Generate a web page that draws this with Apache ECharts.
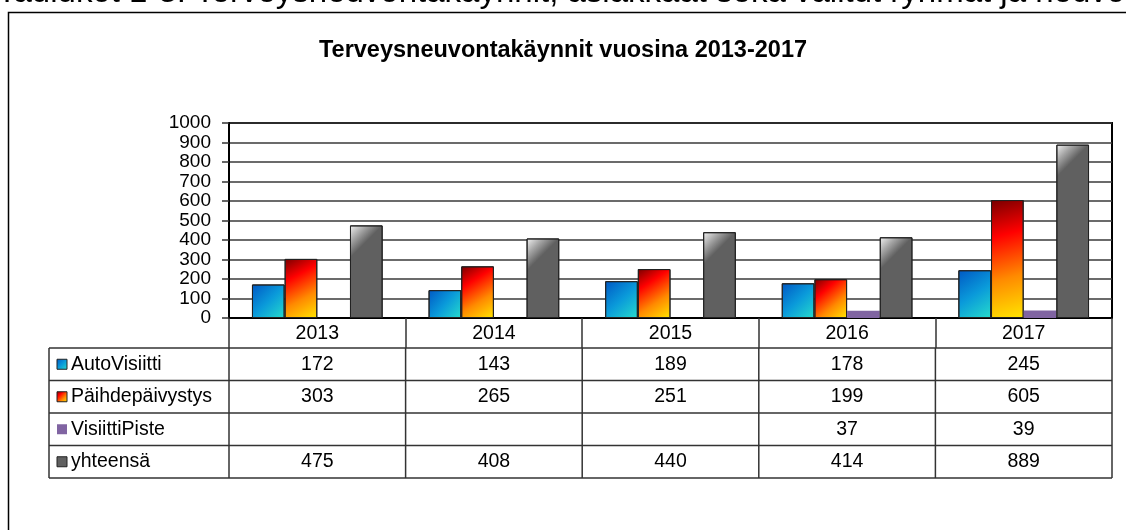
<!DOCTYPE html>
<html>
<head>
<meta charset="utf-8">
<script src="https://cdn.jsdelivr.net/npm/echarts@6/dist/echarts.min.js"></script>
<style>
  html, body { margin: 0; padding: 0; background: #fff; }
  #chart { width: 1126px; height: 530px; }
</style>
</head>
<body>
<div id="chart"></div>
<script>
// data
const years = ['2013', '2014', '2015', '2016', '2017']
const autoVisiitti = [172, 143, 189, 178, 245]
const paihdepaivystys = [303, 265, 251, 199, 605]
const visiittiPiste = [null, null, null, 37, 39]
const yhteensa = [475, 408, 440, 414, 889]
const seriesNames = ['AutoVisiitti', 'Päihdepäivystys', 'VisiittiPiste', 'yhteensä']
const yMax = 1000
const yStep = 100

const FONT = '"Liberation Sans", Arial, sans-serif'
const chart = echarts.init(document.getElementById('chart'))

// fills (excel-ish gradients)
function blueFill() {
  return new echarts.graphic.LinearGradient(0, 0, 1, 1, [
    { offset: 0, color: '#0058c4' },
    { offset: 0.5, color: '#0a9ada' },
    { offset: 1, color: '#26dccb' }
  ])
}
function redFill() {
  return new echarts.graphic.LinearGradient(0, 0, 1, 1, [
    { offset: 0, color: '#780000' },
    { offset: 0.3, color: '#ff0000' },
    { offset: 0.65, color: '#ff8a00' },
    { offset: 1, color: '#ffe600' }
  ])
}
const purpleFill = '#8064a2'
const grayBase = '#606060'
function grayFill(v) {
  // light corner at top-left, roughly 45 degrees in pixels
  return new echarts.graphic.LinearGradient(0, 0, 1, Math.min(1, 167 / v), [
    { offset: 0, color: '#f4f4f4' },
    { offset: 0.25, color: '#a8a8a8' },
    { offset: 0.5, color: grayBase },
    { offset: 1, color: grayBase }
  ])
}
const swatchFills = [blueFill(), redFill(), purpleFill, grayBase]

const barBorder = { borderColor: '#222', borderWidth: 1 }

chart.setOption({
  animation: false,
  grid: {
    left: 229, right: 14, top: 123, bottom: 212,
    show: true, borderColor: '#000', borderWidth: 2
  },
  xAxis: {
    type: 'category',
    data: years,
    axisLine: { lineStyle: { color: '#000', width: 2 } },
    axisTick: { show: true, length: 30, lineStyle: { color: '#333', width: 1.5 } },
    axisLabel: { color: '#000', fontSize: 19.5, fontFamily: FONT, margin: 6 }
  },
  yAxis: {
    type: 'value',
    min: 0, max: yMax, interval: yStep,
    axisLine: { show: true, lineStyle: { color: '#000', width: 2 } },
    axisTick: { show: true, length: 7, lineStyle: { color: '#333', width: 1.5 } },
    axisLabel: {
      color: '#000', fontSize: 19, lineHeight: 16, fontFamily: FONT, margin: 18,
      showMinLabel: true, showMaxLabel: true, hideOverlap: false,
      formatter: v => String(v)
    },
    splitLine: { lineStyle: { color: '#3a3a3a', width: 1.5 } }
  },
  series: [
    {
      name: seriesNames[0], type: 'bar', data: autoVisiitti,
      barGap: '0%', barCategoryGap: '26%',
      itemStyle: Object.assign({ color: blueFill() }, barBorder)
    },
    {
      name: seriesNames[1], type: 'bar', data: paihdepaivystys,
      itemStyle: Object.assign({ color: redFill() }, barBorder)
    },
    {
      name: seriesNames[2], type: 'bar', data: visiittiPiste,
      itemStyle: { color: purpleFill }
    },
    {
      name: seriesNames[3], type: 'bar',
      data: yhteensa.map(v => ({ value: v, itemStyle: { color: grayFill(v) } })),
      itemStyle: barBorder
    }
  ]
})

// data table under the chart + frame and titles
const els = []
const tableLeft = 49, labelRight = 229, tableRight = 1112
const rowTop = 348, rowH = 32.5
const rows = [autoVisiitti, paihdepaivystys, visiittiPiste, yhteensa]
const lineStyle = { stroke: '#333', lineWidth: 1.5 }

for (let i = 0; i <= rows.length; i++) {
  const y = rowTop + i * rowH
  els.push({ type: 'line', shape: { x1: tableLeft, y1: y, x2: tableRight, y2: y }, style: lineStyle })
}
const colW = (tableRight - labelRight) / years.length
const bottomY = rowTop + rows.length * rowH
els.push({ type: 'line', shape: { x1: tableLeft, y1: rowTop, x2: tableLeft, y2: bottomY }, style: lineStyle })
for (let j = 0; j <= years.length; j++) {
  const x = labelRight + j * colW
  els.push({ type: 'line', shape: { x1: x, y1: rowTop, x2: x, y2: bottomY }, style: lineStyle })
}

rows.forEach((vals, r) => {
  const cy = rowTop + r * rowH + rowH / 2
  els.push({
    type: 'rect',
    shape: { x: 57, y: cy - 5, width: 10, height: 10 },
    style: r === 2 ? { fill: swatchFills[r] } : { fill: swatchFills[r], stroke: '#222', lineWidth: 1 }
  })
  els.push({
    type: 'text', x: 71, y: cy,
    style: { text: seriesNames[r], fill: '#000', fontSize: 19.5, fontFamily: FONT, textAlign: 'left', textVerticalAlign: 'middle' }
  })
  vals.forEach((v, j) => {
    if (v == null) return
    const cx = chart.convertToPixel({ xAxisIndex: 0 }, years[j])
    els.push({
      type: 'text', x: cx, y: cy,
      style: { text: String(v), fill: '#000', fontSize: 19.5, fontFamily: FONT, textAlign: 'center', textVerticalAlign: 'middle' }
    })
  })
})

// outer frame (only left/top visible)
els.push({ type: 'polyline', shape: { points: [[8.5, 600], [8.5, 12.5], [1200, 12.5]] }, style: { stroke: '#000', lineWidth: 1.5, fill: null } })

// cut-off caption above the frame
els.push({
  type: 'text', x: -3, y: -7,
  style: { text: 'Taulukot 1-3. Terveysneuvontakäynnit, asiakkaat sekä valitut ryhmät ja neuvonta', fill: '#000', fontSize: 33, fontFamily: FONT, textAlign: 'left', textVerticalAlign: 'middle' }
})

// chart title
els.push({
  type: 'text', x: 563, y: 51,
  style: { text: 'Terveysneuvontakäynnit vuosina 2013-2017', fill: '#000', fontSize: 23.5, fontWeight: 'bold', fontFamily: FONT, textAlign: 'center', textVerticalAlign: 'middle' }
})

chart.setOption({ graphic: { elements: els } })

window.addEventListener('resize', () => {
  chart.resize()
})
</script>
</body>
</html>
